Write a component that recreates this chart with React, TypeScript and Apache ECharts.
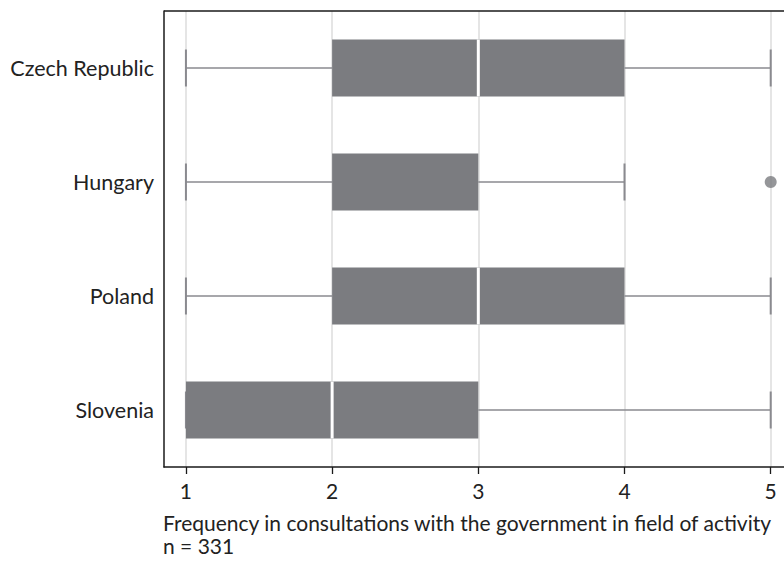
import React, { useEffect, useRef } from "react";
import * as echarts from "echarts";

const countries = ["Czech Republic", "Hungary", "Poland", "Slovenia"];
const minValues = [1, 1, 1, 1];
const q1Values = [2, 2, 2, 1];
const medianValues = [3, 3, 3, 2];
const q3Values = [4, 3, 4, 3];
const maxValues = [5, 4, 5, 5];
const outliers: [number, string][] = [[5, "Hungary"]];
const xTicks = [1, 2, 3, 4, 5];
const caption1 = "Frequency in consultations with the government in field of activity";
const caption2 = "n = 331";

const FONT = "Lato";
const BOX = "#7b7c80";
const WHISKER = "#8a8a8f";

export default function App() {
  const ref = useRef<HTMLDivElement>(null);
  useEffect(() => {
    if (!ref.current) return;
    document.body.style.margin = "0";
    const chart = echarts.init(ref.current, undefined, { renderer: "svg" });
    const boxData = countries.map((_, i) => [
      i,
      minValues[i],
      q1Values[i],
      medianValues[i],
      q3Values[i],
      maxValues[i],
    ]);
    chart.setOption({
      animation: false,
      backgroundColor: "#ffffff",
      grid: { left: 164, top: 11, right: 0, bottom: 96, containLabel: false },
      xAxis: {
        type: "value",
        min: 0.85,
        max: 5.091,
        axisLine: { show: true, lineStyle: { color: "#1a1a1a", width: 1.5 } },
        axisTick: {
          show: true,
          customValues: xTicks,
          length: 7,
          lineStyle: { color: "#1a1a1a", width: 1.3 },
        },
        axisLabel: {
          customValues: xTicks,
          fontFamily: FONT,
          fontSize: 21,
          color: "#222222",
          margin: 13,
        },
        splitLine: { show: true, lineStyle: { color: "#dcdcdc", width: 1.5 } },
      },
      yAxis: {
        type: "category",
        data: countries,
        inverse: true,
        axisLine: { show: true, lineStyle: { color: "#1a1a1a", width: 1.5 } },
        axisTick: { show: false },
        axisLabel: {
          fontFamily: FONT,
          fontSize: 21.5,
          color: "#222222",
          margin: 10,
        },
        splitLine: { show: false },
      },
      graphic: [
        {
          type: "line",
          shape: { x1: 164, y1: 11, x2: 784, y2: 11 },
          style: { stroke: "#1a1a1a", lineWidth: 1.5 },
          z: 10,
        },
        {
          type: "text",
          left: 163,
          top: 512,
          style: { text: caption1, font: `21px ${FONT}`, fill: "#222222" },
        },
        {
          type: "text",
          left: 163,
          top: 535,
          style: { text: caption2, font: `21px ${FONT}`, fill: "#222222" },
        },
      ],
      series: [
        {
          type: "custom",
          data: boxData,
          encode: { x: [1, 2, 3, 4, 5], y: 0 },
          renderItem: (params: any, api: any) => {
            const cat = api.value(0);
            const vMin = api.value(1);
            const vQ1 = api.value(2);
            const vMed = api.value(3);
            const vQ3 = api.value(4);
            const vMax = api.value(5);
            const pMin = api.coord([vMin, cat]);
            const pQ1 = api.coord([vQ1, cat]);
            const pMed = api.coord([vMed, cat]);
            const pQ3 = api.coord([vQ3, cat]);
            const pMax = api.coord([vMax, cat]);
            const y = pMin[1];
            const boxH = 57;
            const capH = 37;
            const children: any[] = [];
            children.push({
              type: "line",
              shape: { x1: pMin[0], y1: y, x2: pQ1[0], y2: y },
              style: { stroke: WHISKER, lineWidth: 1.6 },
            });
            children.push({
              type: "line",
              shape: { x1: pQ3[0], y1: y, x2: pMax[0], y2: y },
              style: { stroke: WHISKER, lineWidth: 1.6 },
            });
            children.push({
              type: "line",
              shape: { x1: pMin[0], y1: y - capH / 2, x2: pMin[0], y2: y + capH / 2 },
              style: { stroke: WHISKER, lineWidth: 2 },
            });
            children.push({
              type: "line",
              shape: { x1: pMax[0], y1: y - capH / 2, x2: pMax[0], y2: y + capH / 2 },
              style: { stroke: WHISKER, lineWidth: 2 },
            });
            children.push({
              type: "rect",
              shape: { x: pQ1[0], y: y - boxH / 2, width: pQ3[0] - pQ1[0], height: boxH },
              style: { fill: BOX },
            });
            if (vMed > vQ1 && vMed < vQ3) {
              children.push({
                type: "line",
                shape: { x1: pMed[0], y1: y - boxH / 2, x2: pMed[0], y2: y + boxH / 2 },
                style: { stroke: "#ffffff", lineWidth: 3 },
              });
            }
            return { type: "group", children };
          },
          z: 5,
        },
        {
          type: "scatter",
          data: outliers,
          symbol: "circle",
          symbolSize: 12,
          itemStyle: { color: BOX },
          z: 6,
        },
      ],
    });
    return () => chart.dispose();
  }, []);
  return <div ref={ref} style={{ width: 784, height: 563 }} />;
}
